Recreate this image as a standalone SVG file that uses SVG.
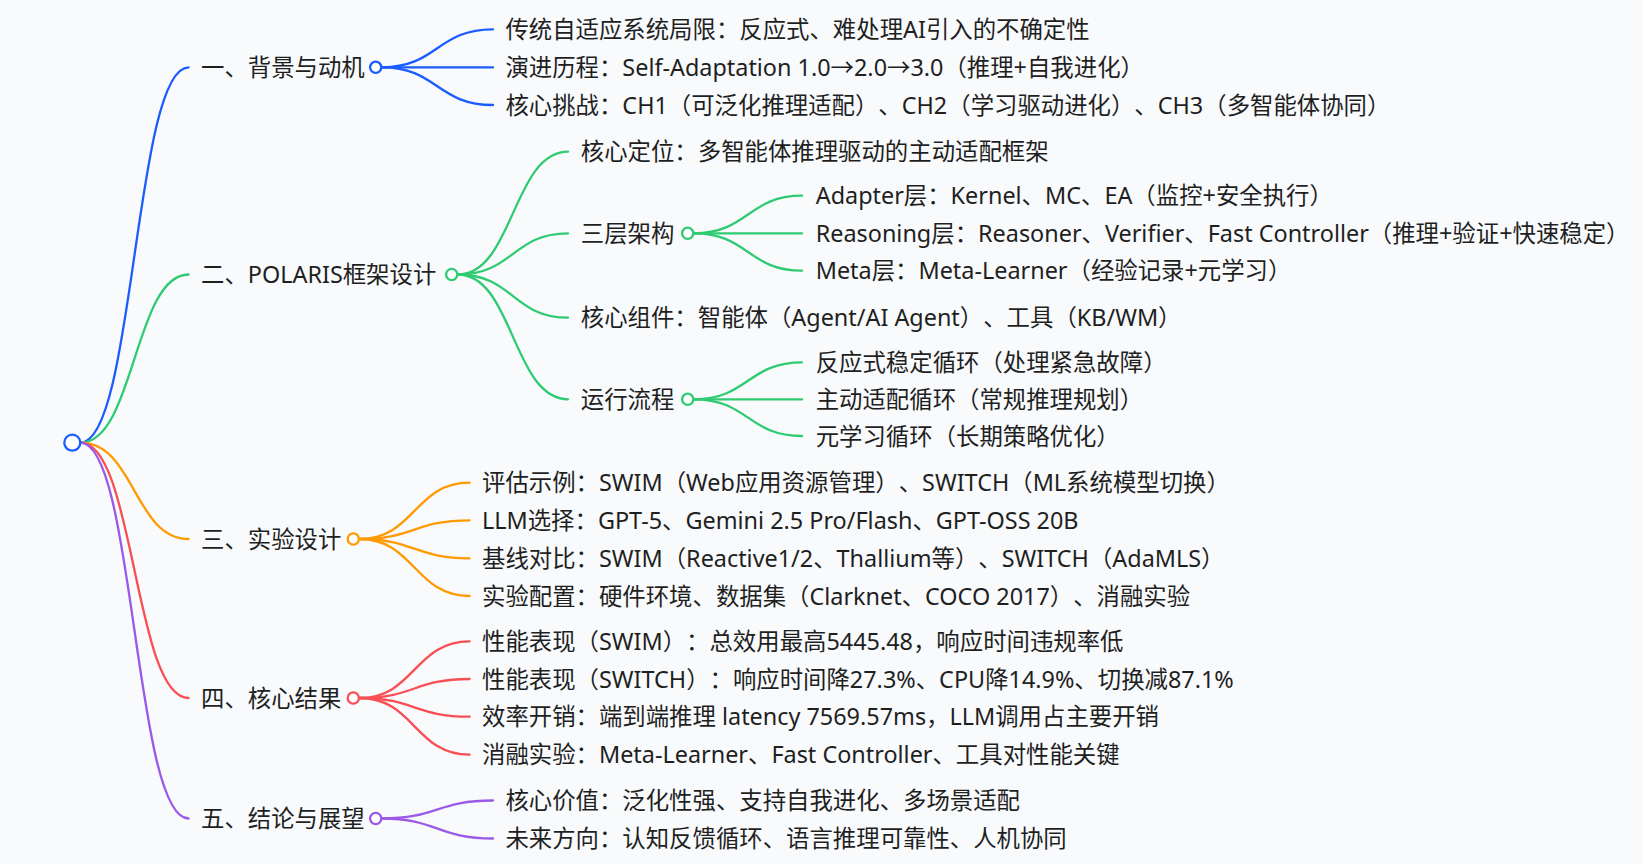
<svg xmlns="http://www.w3.org/2000/svg" width="1643" height="864" viewBox="0 0 1643 864">
<style>
text{font-family:"Noto Sans","Noto Sans CJK SC",sans-serif;font-size:23.4px;fill:#1f1f1f;text-spacing-trim:space-all}
.c{fill:none;stroke-width:2.3;stroke-linecap:round}
.b{stroke:#1a5cff}.g{stroke:#2fcb72}.o{stroke:#ff9a00}.r{stroke:#f84f55}.p{stroke:#9b59e8}
.n{fill:#fff;stroke-width:2.3}
</style>
<rect width="1643" height="864" fill="#f8fafc"/>
<g id="connectors">
<path class="c b" d="M80.5,442.7 C134.5,442.7 134.5,67.3 188.6,67.3"/>
<path class="c g" d="M80.5,442.7 C134.5,442.7 134.5,274.5 188.6,274.5"/>
<path class="c o" d="M80.5,442.7 C134.5,442.7 134.5,539 188.6,539"/>
<path class="c r" d="M80.5,442.7 C134.5,442.7 134.5,698 188.6,698"/>
<path class="c p" d="M80.5,442.7 C134.5,442.7 134.5,818.5 188.6,818.5"/>
<path class="c b" d="M382,67.3 C437,67.3 437,29.3 493,29.3"/>
<path class="c b" d="M382,67.3 L493,67.3"/>
<path class="c b" d="M382,67.3 C437,67.3 437,105 493,105"/>
<path class="c g" d="M458,274.5 C513,274.5 513,151.7 568,151.7"/>
<path class="c g" d="M458,274.5 C513,274.5 513,233.3 568,233.3"/>
<path class="c g" d="M458,274.5 C513,274.5 513,317.7 568,317.7"/>
<path class="c g" d="M458,274.5 C513,274.5 513,399.3 568,399.3"/>
<path class="c g" d="M694,233.3 C748,233.3 748,195.7 802,195.7"/>
<path class="c g" d="M694,233.3 L802,233.3"/>
<path class="c g" d="M694,233.3 C748,233.3 748,270.7 802,270.7"/>
<path class="c g" d="M694,399.3 C748,399.3 748,362.3 802,362.3"/>
<path class="c g" d="M694,399.3 L802,399.3"/>
<path class="c g" d="M694,399.3 C748,399.3 748,436 802,436"/>
<path class="c o" d="M359.5,539 C414.5,539 414.5,482.7 469.6,482.7"/>
<path class="c o" d="M359.5,539 C414.5,539 414.5,520.3 469.6,520.3"/>
<path class="c o" d="M359.5,539 C414.5,539 414.5,558.3 469.6,558.3"/>
<path class="c o" d="M359.5,539 C414.5,539 414.5,596 469.6,596"/>
<path class="c r" d="M359.5,698 C414.5,698 414.5,641.3 469.6,641.3"/>
<path class="c r" d="M359.5,698 C414.5,698 414.5,679 469.6,679"/>
<path class="c r" d="M359.5,698 C414.5,698 414.5,716.7 469.6,716.7"/>
<path class="c r" d="M359.5,698 C414.5,698 414.5,754.7 469.6,754.7"/>
<path class="c p" d="M382,818.5 C437,818.5 437,800.5 493,800.5"/>
<path class="c p" d="M382,818.5 C437,818.5 437,838.5 493,838.5"/>
</g>
<g id="root"><circle class="n b" cx="72.3" cy="442.7" r="8" stroke-width="2.6"/></g>
<g id="n1"><text x="201" y="75.8">一、背景与动机</text><circle class="n b" cx="375.7" cy="67.3" r="5.6"/></g>
<g id="n1a"><text x="505.4" y="37.8">传统自适应系统局限：反应式、难处理AI引入的不确定性</text></g>
<g id="n1b"><text x="505.4" y="75.5">演进历程：Self-Adaptation 1.0→2.0→3.0（推理+自我进化）</text></g>
<g id="n1c"><text x="505.4" y="113.5">核心挑战：CH1（可泛化推理适配）、CH2（学习驱动进化）、CH3（多智能体协同）</text></g>
<g id="n2"><text x="201" y="283">二、POLARIS框架设计</text><circle class="n g" cx="451.7" cy="274.5" r="5.6"/></g>
<g id="n2a"><text x="580.8" y="160.2">核心定位：多智能体推理驱动的主动适配框架</text></g>
<g id="n2b"><text x="580.8" y="241.8">三层架构</text><circle class="n g" cx="687.7" cy="233.3" r="5.6"/></g>
<g id="n2b1"><text x="815.7" y="204.2">Adapter层：Kernel、MC、EA（监控+安全执行）</text></g>
<g id="n2b2"><text x="815.7" y="241.8">Reasoning层：Reasoner、Verifier、Fast Controller（推理+验证+快速稳定）</text></g>
<g id="n2b3"><text x="815.7" y="279.2">Meta层：Meta-Learner（经验记录+元学习）</text></g>
<g id="n2c"><text x="580.8" y="326.2">核心组件：智能体（Agent/AI Agent）、工具（KB/WM）</text></g>
<g id="n2d"><text x="580.8" y="407.8">运行流程</text><circle class="n g" cx="687.7" cy="399.3" r="5.6"/></g>
<g id="n2d1"><text x="815.7" y="370.8">反应式稳定循环（处理紧急故障）</text></g>
<g id="n2d2"><text x="815.7" y="407.8">主动适配循环（常规推理规划）</text></g>
<g id="n2d3"><text x="815.7" y="444.5">元学习循环（长期策略优化）</text></g>
<g id="n3"><text x="201" y="547.5">三、实验设计</text><circle class="n o" cx="353.3" cy="539" r="5.6"/></g>
<g id="n3a"><text x="482" y="491.2">评估示例：SWIM（Web应用资源管理）、SWITCH（ML系统模型切换）</text></g>
<g id="n3b"><text x="482" y="528.8">LLM选择：GPT-5、Gemini 2.5 Pro/Flash、GPT-OSS 20B</text></g>
<g id="n3c"><text x="482" y="566.8">基线对比：SWIM（Reactive1/2、Thallium等）、SWITCH（AdaMLS）</text></g>
<g id="n3d"><text x="482" y="604.5">实验配置：硬件环境、数据集（Clarknet、COCO 2017）、消融实验</text></g>
<g id="n4"><text x="201" y="706.5">四、核心结果</text><circle class="n r" cx="353.3" cy="698" r="5.6"/></g>
<g id="n4a"><text x="482" y="649.8">性能表现（SWIM）：总效用最高5445.48，响应时间违规率低</text></g>
<g id="n4b"><text x="482" y="687.5">性能表现（SWITCH）：响应时间降27.3%、CPU降14.9%、切换减87.1%</text></g>
<g id="n4c"><text x="482" y="725.2">效率开销：端到端推理 latency 7569.57ms，LLM调用占主要开销</text></g>
<g id="n4d"><text x="482" y="763.2">消融实验：Meta-Learner、Fast Controller、工具对性能关键</text></g>
<g id="n5"><text x="201" y="827">五、结论与展望</text><circle class="n p" cx="375.7" cy="818.5" r="5.6"/></g>
<g id="n5a"><text x="505.4" y="809">核心价值：泛化性强、支持自我进化、多场景适配</text></g>
<g id="n5b"><text x="505.4" y="847">未来方向：认知反馈循环、语言推理可靠性、人机协同</text></g>
</svg>
